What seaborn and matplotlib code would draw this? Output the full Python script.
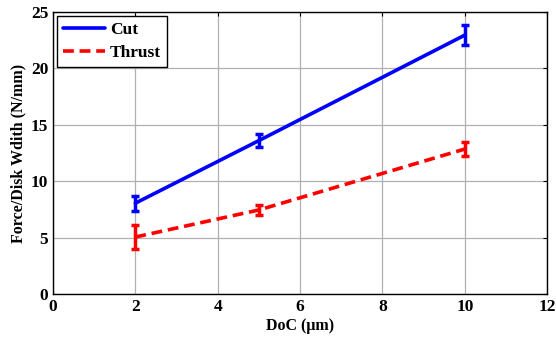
import pandas as pd
import seaborn as sns
import matplotlib.pyplot as plt

# data
doc = [2, 5, 10]
cut = [8.05, 13.6, 22.95]
cut_err = [0.65, 0.6, 0.9]
thrust = [5.05, 7.45, 12.85]
thrust_err = [1.1, 0.45, 0.65]

df = pd.DataFrame({
    "DoC": doc * 2,
    "Force": cut + thrust,
    "Err": cut_err + thrust_err,
    "Series": ["Cut"] * 3 + ["Thrust"] * 3,
})

sns.set_style("white")
plt.rcParams['font.family'] = ['Liberation Serif', 'DejaVu Serif']
plt.rcParams['font.weight'] = 'bold'
plt.rcParams['text.color'] = 'black'
plt.rcParams['axes.labelcolor'] = 'black'

fig = plt.figure(figsize=(5.56, 3.37), dpi=100)
ax = fig.add_axes([0.0953, 0.1276, 0.8888, 0.8368])

colors = {"Cut": "#0000ff", "Thrust": "#ff0000"}
sns.lineplot(data=df, x="DoC", y="Force", hue="Series", style="Series",
             palette=colors, dashes={"Cut": "", "Thrust": (3, 1.6)},
             linewidth=2.6, ax=ax)
for name, g in df.groupby("Series"):
    ax.errorbar(g["DoC"], g["Force"], yerr=g["Err"], fmt="none",
                ecolor=colors[name], elinewidth=2.5, capsize=3, capthick=2.5)

ax.set_xlim(0, 12)
ax.set_ylim(0, 25)
ax.set_xticks(range(0, 13, 2))
ax.set_yticks(range(0, 26, 5))
ax.grid(True, color="#b0b0b0", linewidth=0.9)
for s in ax.spines.values():
    s.set_color("black")
    s.set_linewidth(1.0)
ax.tick_params(direction="in", length=3, labelsize=12.5, colors="black",
               top=True, right=True)
for lab in ax.get_xticklabels() + ax.get_yticklabels():
    lab.set_fontweight("bold")
ax.set_xlabel("DoC (μm)", fontsize=11.5, fontweight="bold", labelpad=2)
ax.set_ylabel("Force/Disk Wdith (N/mm)", fontsize=11.5, fontweight="bold", labelpad=3)

leg = ax.legend(loc="upper left", fontsize=12.5, fancybox=False, framealpha=1,
                edgecolor="black", handlelength=2.4, handletextpad=0.3,
                borderpad=0.35, labelspacing=0.35, borderaxespad=0,
                bbox_to_anchor=(0.008, 0.985))
leg.get_frame().set_linewidth(1.0)
for t in leg.get_texts():
    t.set_fontweight("bold")

fig.savefig("out.png", dpi=100)
